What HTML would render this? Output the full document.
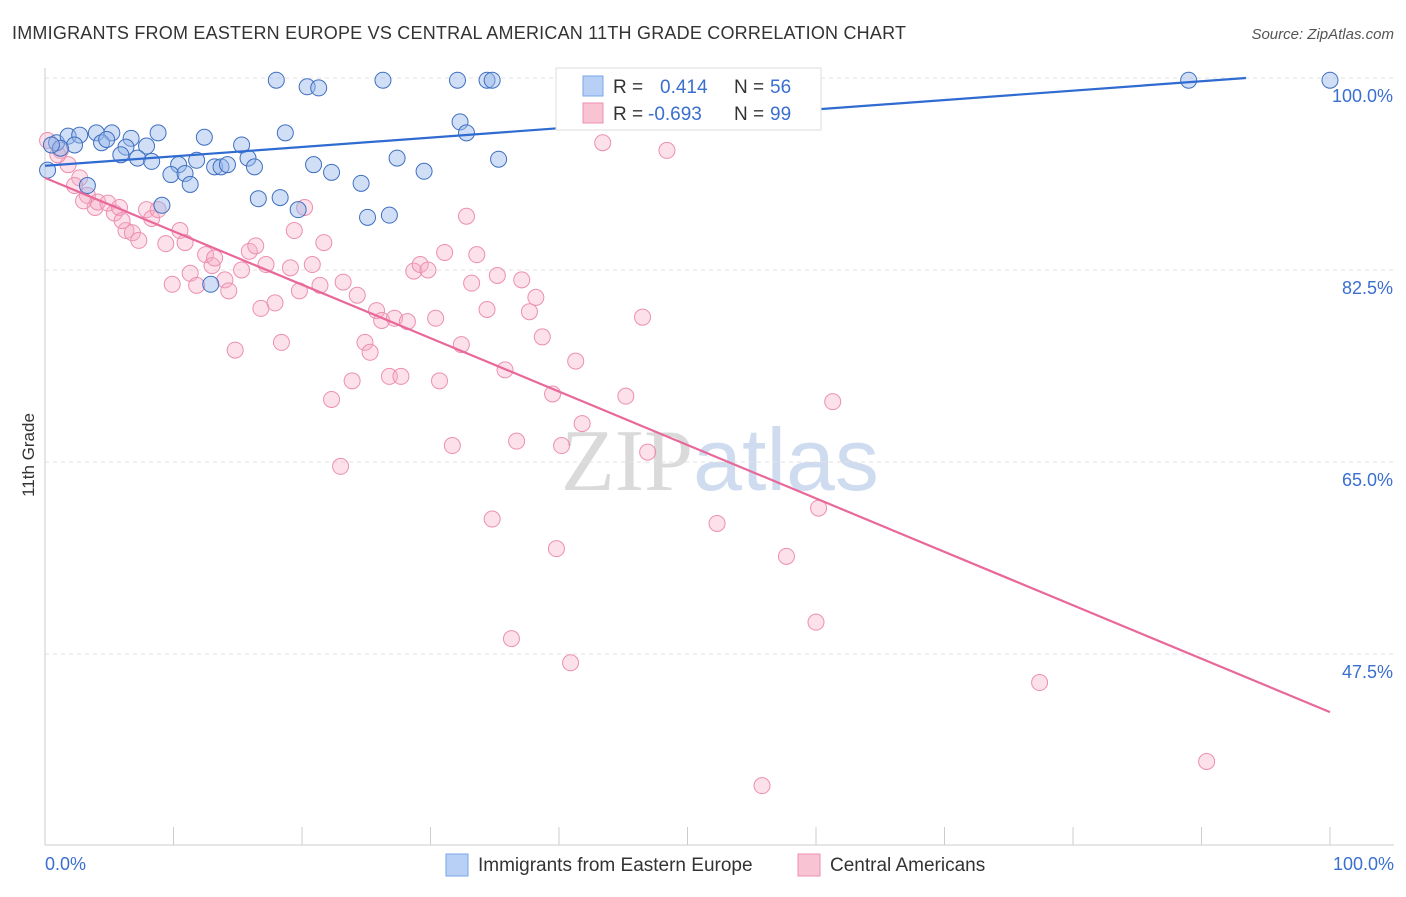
<!DOCTYPE html>
<html><head><meta charset="utf-8"><style>
body{margin:0;background:#fff;font-family:"Liberation Sans",sans-serif;}
</style></head><body>
<svg id="c" width="1406" height="892" xmlns="http://www.w3.org/2000/svg" font-family="Liberation Sans, sans-serif">
<text x="12" y="39" font-size="18" fill="#333" textLength="894">IMMIGRANTS FROM EASTERN EUROPE VS CENTRAL AMERICAN 11TH GRADE CORRELATION CHART</text>
<text x="1394" y="39" font-size="15" fill="#555" text-anchor="end" font-style="italic">Source: ZipAtlas.com</text>
<text x="720" y="490" font-size="88" text-anchor="middle"><tspan fill="#dadada" font-family="Liberation Serif, serif">ZIP</tspan><tspan fill="#cfdcf0">atlas</tspan></text>
<text transform="translate(34,455) rotate(-90)" font-size="17" fill="#333" text-anchor="middle">11th Grade</text>
<g id="grid"></g><g id="pts"></g><g id="lines"></g>
<g>
<rect x="556" y="68" width="265" height="62" fill="#fff" stroke="#ddd"/>
<rect x="583" y="76" width="20" height="20" fill="#b8d0f5" stroke="#7aa6e8"/>
<rect x="583" y="103" width="20" height="20" fill="#f8c3d3" stroke="#ec8fb0"/>
<text y="93" font-size="19" fill="#333"><tspan x="613">R =</tspan><tspan x="660" fill="#3a6fd0">0.414</tspan><tspan x="734">N =</tspan><tspan x="770" fill="#3a6fd0">56</tspan></text>
<text y="120" font-size="19" fill="#333"><tspan x="613">R =</tspan><tspan x="648" fill="#3a6fd0">-0.693</tspan><tspan x="734">N =</tspan><tspan x="770" fill="#3a6fd0">99</tspan></text>
</g>
<g>
<rect x="446" y="854" width="22" height="22" fill="#b8d0f5" stroke="#7aa6e8"/>
<text x="478" y="871" font-size="19" fill="#333">Immigrants from Eastern Europe</text>
<rect x="798" y="854" width="22" height="22" fill="#f8c3d3" stroke="#ec8fb0"/>
<text x="830" y="871" font-size="19" fill="#333">Central Americans</text>
</g>
<text x="45" y="870" font-size="18" fill="#3a6fd0">0.0%</text>
<text x="1394" y="870" font-size="18" fill="#3a6fd0" text-anchor="end">100.0%</text>
</svg>
<script>
const yTicks=[100,82.5,65,47.5];
const yTickLabels=["100.0%","82.5%","65.0%","47.5%"];
const xTicks=[0,10,20,30,40,50,60,70,80,90,100];
const blueX=[18.0,20.4,21.3,26.3,32.1,34.4,34.8,89.0,100,32.3,32.8,0.9,1.8,2.7,4.0,5.2,8.8,12.4,18.7,2.3,4.4,4.8,6.7,6.3,7.9,15.3,5.9,7.2,8.3,10.4,11.8,13.2,13.7,14.2,15.8,16.3,20.9,22.3,27.4,29.5,35.3,9.8,10.9,11.3,24.6,3.3,16.6,18.3,19.7,9.1,25.1,26.8,12.9,0.2,1.2,0.5];
const blueY=[99.8,99.2,99.1,99.8,99.8,99.8,99.8,99.8,99.8,96.0,95.0,94.1,94.7,94.8,95.0,95.0,95.0,94.6,95.0,93.9,94.1,94.4,94.5,93.7,93.8,93.9,93.0,92.7,92.4,92.1,92.5,91.9,91.9,92.1,92.7,91.9,92.1,91.4,92.7,91.5,92.6,91.2,91.3,90.3,90.4,90.2,89.0,89.1,88.0,88.4,87.3,87.5,81.2,91.6,93.6,93.9];
const pinkX=[0.2,1.2,1.8,2.7,2.3,3.3,3.9,4.1,4.9,5.4,5.8,6.3,6.8,7.3,7.9,8.3,8.8,9.4,9.9,10.5,10.9,11.3,11.8,12.5,13.0,13.2,14.0,14.3,14.8,15.3,15.9,16.4,16.8,17.2,17.9,18.4,19.1,19.4,19.8,20.2,20.8,21.4,21.7,22.3,23.0,23.2,23.9,24.3,24.9,25.3,25.8,26.2,26.8,27.2,27.7,28.2,28.7,29.2,29.8,30.4,30.7,31.1,31.7,32.4,32.8,33.2,33.6,34.4,34.8,35.2,35.8,36.3,36.7,37.1,37.7,38.2,38.7,39.5,39.8,40.2,40.9,41.3,41.8,43.4,45.2,46.5,46.9,48.4,52.3,55.8,57.7,60.0,60.2,61.3,77.4,90.4,1.0,3.0,6.0];
const pinkY=[94.3,93.4,92.1,90.9,90.2,89.3,88.2,88.7,88.6,87.7,88.2,86.1,85.9,85.2,88.0,87.2,88.0,84.9,81.2,86.1,85.0,82.2,81.1,83.9,82.9,83.6,81.6,80.6,75.2,82.5,84.2,84.7,79.0,83.0,79.5,75.9,82.7,86.1,80.6,88.2,83.0,81.1,85.0,70.7,64.6,81.4,72.4,80.2,75.9,75.0,78.8,77.9,72.8,78.1,72.8,77.8,82.4,83.0,82.5,78.1,72.4,84.1,66.5,75.7,87.4,81.3,83.9,78.9,59.8,82.0,73.4,48.9,66.9,81.6,78.7,80.0,76.4,71.2,57.1,66.5,46.7,74.2,68.5,94.1,71.0,78.2,65.9,93.4,59.4,35.5,56.4,50.4,60.8,70.5,44.9,37.7,93.0,88.8,87.0];
const blueLine=[0,92.0,0.0856];
const pinkLine=[0,90.9,-0.487];
const NS="http://www.w3.org/2000/svg";
const X=v=>45+v*12.85, Y=v=>462-(v-65)*10.971;
function mk(tag,attrs,parent){const e=document.createElementNS(NS,tag);for(const k in attrs)e.setAttribute(k,attrs[k]);document.getElementById(parent).appendChild(e);return e;}
yTicks.forEach((t,i)=>{
 const g=mk('line',{x1:45,x2:1394,y1:Y(t),y2:Y(t),stroke:'#e2e2e2','stroke-dasharray':'4,4'},'grid');
 
 
 const l=mk('text',{x:1393,y:Y(t)+24,'font-size':18,fill:'#3a6fd0','text-anchor':'end'},'grid');
 l.textContent=yTickLabels[i];
 
 
});
const ax=mk('line',{x1:45,x2:1394,y1:845,y2:845,stroke:'#ccc'},'grid');


const ay=mk('line',{x1:45,x2:45,y1:68,y2:845,stroke:'#ccc'},'grid');


xTicks.forEach(t=>{
 const e=mk('line',{x1:X(t),x2:X(t),y1:827,y2:845,stroke:'#ccc'},'grid');
 
 
});
pinkX.forEach((x,i)=>{
 const c=mk('circle',{cx:X(x),cy:Y(pinkY[i]),r:8,fill:'rgba(245,170,195,0.35)',stroke:'#ec8fb0','stroke-width':1},'pts');
 
 
});
blueX.forEach((x,i)=>{
 const c=mk('circle',{cx:X(x),cy:Y(blueY[i]),r:8,fill:'rgba(150,185,235,0.45)',stroke:'#3f6fc0','stroke-width':1},'pts');
 
 
});
const bEnd=Math.min(100,(100-blueLine[1])/blueLine[2]);
const bl=mk('line',{x1:X(0),y1:Y(blueLine[1]),x2:X(bEnd),y2:Y(blueLine[1]+blueLine[2]*bEnd),stroke:'#2f6bd0','stroke-width':2.2},'lines');


const pl=mk('line',{x1:X(0),y1:Y(pinkLine[1]),x2:X(100),y2:Y(pinkLine[1]+pinkLine[2]*100),stroke:'#e8689a','stroke-width':2.2},'lines');


</script>
</body></html>
